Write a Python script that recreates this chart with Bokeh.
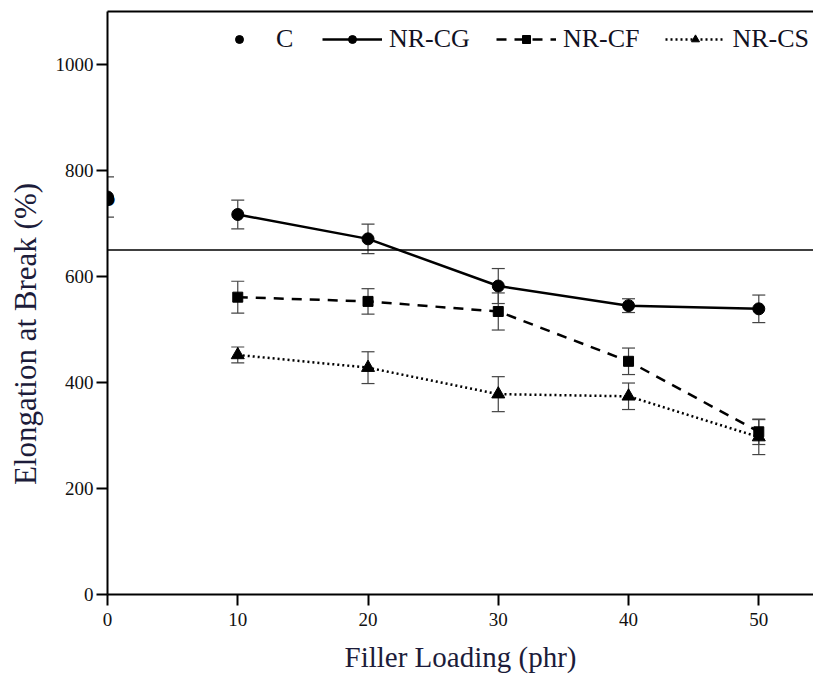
from bokeh.plotting import figure
from bokeh.models import (ColumnDataSource, Whisker, TeeHead, Span, Legend, LegendItem,
                          LinearAxis, Range1d, FixedTicker, Label)
from bokeh.embed import file_html
from bokeh.resources import INLINE

# ---- data ----
filler = [10, 20, 30, 40, 50]
c_x = [0]
c_val = [750]
c_err = [38]
cg = [717, 671, 582, 545, 539]
cg_err = [27, 28, 33, 13, 26]
cf = [561, 553, 534, 440, 307]
cf_err = [30, 24, 35, 25, 24]
cs = [452, 428, 378, 374, 297]
cs_err = [15, 30, 33, 25, 33]
ref_level = 650
x_ticks = [0, 10, 20, 30, 40, 50]
y_ticks = [0, 200, 400, 600, 800, 1000]
x_title = "Filler Loading (phr)"
y_title = "Elongation at Break (%)"

FONT = "Liberation Serif"

p = figure(width=813, height=675, output_backend="svg", toolbar_location=None,
           x_range=Range1d(0, 54.2), y_range=Range1d(0, 1100),
           min_border_left=107, min_border_top=11, min_border_right=0, min_border_bottom=0)
p.outline_line_color = None
p.grid.visible = False
p.background_fill_color = "white"

for ax in (p.xaxis[0], p.yaxis[0]):
    ax.axis_line_width = 2
    ax.major_tick_line_width = 2
    ax.major_tick_out = 11
    ax.major_tick_in = 0
    ax.minor_tick_line_color = None
    ax.major_label_text_font = FONT
    ax.major_label_text_font_size = "19px"
    ax.major_label_text_color = "#111111"
    ax.axis_label_text_font = FONT
    ax.axis_label_text_font_style = "normal"
    ax.axis_label_text_color = "#1c1c3a"

p.xaxis.ticker = FixedTicker(ticks=x_ticks)
p.yaxis.ticker = FixedTicker(ticks=y_ticks)
p.xaxis.axis_label = x_title
p.xaxis.axis_label_text_font_size = "29px"
p.xaxis.major_label_standoff = 7
p.yaxis.major_label_standoff = 3
p.xaxis.axis_label_standoff = 12
# two em-spaces after the title push it below the frame centre, as in the original
p.yaxis.axis_label = y_title + "\u2003\u2003"
p.yaxis.axis_label_text_font_size = "31px"
p.yaxis.axis_label_standoff = 10

top = LinearAxis(ticker=FixedTicker(ticks=[]), major_label_text_font_size="0px",
                 axis_line_width=2, major_tick_line_color=None, minor_tick_line_color=None)
p.add_layout(top, "above")

p.add_layout(Span(location=ref_level, dimension="width", line_color="black", line_width=1.5))

def add_err(xs, ys, es):
    src = ColumnDataSource(dict(x=xs, lo=[y - e for y, e in zip(ys, es)],
                                hi=[y + e for y, e in zip(ys, es)]))
    w = Whisker(source=src, base="x", lower="lo", upper="hi",
                line_color="#444444", line_width=1.2,
                upper_head=TeeHead(size=13, line_color="#444444", line_width=1.2),
                lower_head=TeeHead(size=13, line_color="#444444", line_width=1.2))
    p.add_layout(w)

add_err(c_x, c_val, c_err)
add_err(filler, cg, cg_err)
add_err(filler, cf, cf_err)
add_err(filler, cs, cs_err)

r_c = p.scatter(c_x, c_val, marker="circle", size=12, color="black")
# unclipped overlay of the C point sitting on the y axis
p.add_layout(Label(x=c_x[0], y=c_val[0], text="\u25cf", text_font="DejaVu Sans",
                   text_font_size="16px", text_align="center", text_baseline="middle",
                   text_color="black", x_offset=1, y_offset=-1))
l_cg = p.line(filler, cg, line_color="black", line_width=2.5)
s_cg = p.scatter(filler, cg, marker="circle", size=12, color="black")
l_cf = p.line(filler, cf, line_color="black", line_width=2.5, line_dash="10 8")
s_cf = p.scatter(filler, cf, marker="square", size=10, color="black")
l_cs = p.line(filler, cs, line_color="black", line_width=2.5, line_dash="2 3")
s_cs = p.scatter(filler, cs, marker="triangle", size=13, color="black")

legend = Legend(items=[
    LegendItem(label="C", renderers=[r_c]),
    LegendItem(label="NR-CG", renderers=[l_cg, s_cg]),
    LegendItem(label="NR-CF", renderers=[l_cf, s_cf]),
    LegendItem(label="NR-CS", renderers=[l_cs, s_cs]),
], orientation="horizontal", location=(102, 540))
legend.glyph_width = 60
legend.label_standoff = 7
legend.spacing = 26
legend.padding = 5
legend.margin = 0
legend.border_line_color = None
legend.background_fill_alpha = 0
legend.label_text_font = FONT
legend.label_text_font_size = "26px"
legend.label_text_color = "#111122"
p.add_layout(legend, "center")

open("out.html", "w").write(file_html(p, INLINE))
